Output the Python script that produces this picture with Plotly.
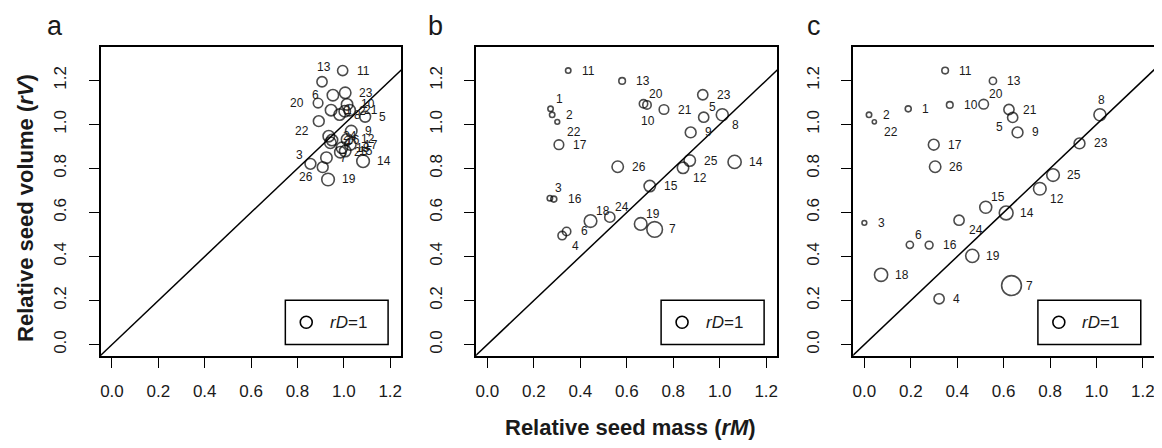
import plotly.graph_objects as go

# ---------------- data ----------------
ids = [str(i) for i in range(1, 27)]

# panel a
a_rM = [0.945, 1.004, 0.856, 0.942, 1.092, 0.953, 0.925, 0.982, 1.032, 1.014, 0.995, 1.014, 0.906,
        1.083, 1.006, 0.949, 1.028, 0.992, 0.932, 0.889, 1.025, 0.892, 1.006, 0.935, 0.985, 0.909]
a_rV = [1.065, 1.060, 0.821, 0.917, 1.035, 1.133, 0.849, 1.045, 0.970, 1.091, 1.245, 0.932, 1.194,
        0.833, 0.879, 0.929, 0.909, 0.894, 0.750, 1.097, 1.065, 1.015, 1.144, 0.947, 0.874, 0.806]
a_rD = [0.95, 0.95, 0.9, 0.95, 0.9, 0.95, 0.95, 0.95, 0.95, 0.95, 0.85, 0.95, 0.85,
        1.05, 0.95, 0.95, 0.95, 0.95, 1.05, 0.8, 0.95, 0.9, 0.95, 0.95, 0.95, 0.9]

# panel b
b_rM = [0.272, 0.279, 0.269, 0.322, 0.931, 0.341, 0.720, 1.011, 0.875, 0.687, 0.348, 0.842, 0.580,
        1.064, 0.699, 0.286, 0.308, 0.444, 0.660, 0.672, 0.760, 0.301, 0.927, 0.527, 0.871, 0.561]
b_rV = [1.071, 1.044, 0.665, 0.495, 1.033, 0.514, 0.523, 1.044, 0.964, 1.089, 1.245, 0.803, 1.198,
        0.830, 0.720, 0.661, 0.908, 0.561, 0.548, 1.094, 1.068, 1.012, 1.135, 0.579, 0.836, 0.808]
b_rD = [0.45, 0.45, 0.45, 0.7, 0.85, 0.7, 1.3, 1.0, 0.9, 0.7, 0.45, 0.95, 0.55,
        1.1, 0.95, 0.5, 0.8, 1.05, 1.05, 0.7, 0.8, 0.4, 0.85, 0.85, 0.95, 0.95]

# panel c
c_rM = [0.189, 0.020, 0.000, 0.322, 0.639, 0.196, 0.634, 1.015, 0.660, 0.368, 0.348, 0.756, 0.554,
        0.611, 0.523, 0.279, 0.299, 0.072, 0.465, 0.514, 0.623, 0.043, 0.927, 0.408, 0.813, 0.305]
c_rV = [1.071, 1.044, 0.553, 0.208, 1.032, 0.453, 0.268, 1.044, 0.964, 1.089, 1.245, 0.708, 1.198,
        0.598, 0.624, 0.452, 0.908, 0.317, 0.403, 1.092, 1.068, 1.012, 0.914, 0.565, 0.770, 0.808]
c_rD = [0.5, 0.45, 0.4, 0.85, 0.85, 0.6, 1.65, 1.0, 0.9, 0.55, 0.55, 1.05, 0.6,
        1.15, 1.0, 0.65, 0.9, 1.1, 1.1, 0.8, 0.85, 0.35, 0.9, 0.85, 1.05, 0.95]

x_ticks = [0.0, 0.2, 0.4, 0.6, 0.8, 1.0, 1.2]
y_ticks = [0.0, 0.2, 0.4, 0.6, 0.8, 1.0, 1.2]
tick_text = ["0.0", "0.2", "0.4", "0.6", "0.8", "1.0", "1.2"]
panel_letters = ["a", "b", "c"]
legend_label = "<i>rD</i>=1"

# ---------------- label placement (style) ----------------
a_pos = ['r', 'r', 'tl', 'r', 'r', 'l', 'r', 'r', 'r', 'r', 'r', 'r', 't',
         'r', 'r', 'r', 'r', 'r', 'r', 'l', 'r', 'bl', 'r', 'r', 'r', 'bl']
b_pos = ['tr', 'r', 'tr', 'br', 'tr', 'r', 'r', 'br', 'r', 'b', 'r', 'br', 'r',
         'r', 'r', 'r', 'r', 'tr', 'tr', 'tr', 'r', 'br', 'r', 'tr', 'r', 'r']
c_pos = ['r', 'r', 'r', 'r', 'bl', 'tr', 'r', 't', 'r', 'r', 'r', 'br', 'r',
         'r', 'tr', 'r', 'r', 'r', 'r', 'tr', 'r', 'br', 'r', 'br', 'r', 'r']
OFFS = {'r': ('left', 12, 0), 'l': ('right', -12, 0), 't': ('center', 2, 15),
        'b': ('center', 1, -16), 'tr': ('left', 3, 10), 'br': ('left', 8, -10),
        'tl': ('right', -5, 9), 'bl': ('right', -8, -10)}

FONT = "Liberation Sans, Arial, Helvetica, sans-serif"
TXT = "#1a1a1a"
SIZE_PER_RD = 12
XR = [-0.048, 1.248]
YR = [-0.052, 1.352]

# page is offset by the 8px body margin
W, H, OFF = 1150, 432, 8


def px(p):
    return (p - OFF) / W


def py(p):
    return 1 - (p - OFF) / H


x_domains = [[px(100), px(401)], [px(476), px(777.7)], [px(853.7), px(1155)]]
y_domain = [py(356), py(47)]

panels = [(a_rM, a_rV, a_rD, a_pos), (b_rM, b_rV, b_rD, b_pos), (c_rM, c_rV, c_rD, c_pos)]

fig = go.Figure()
annotations = []
shapes = []
layout = {}

for k, (xs, ys, ds, pos) in enumerate(panels):
    sfx = "" if k == 0 else str(k + 1)
    xa, ya = "x" + sfx, "y" + sfx
    # 1:1 line
    fig.add_trace(go.Scatter(x=[XR[0] - 0.1, XR[1] + 0.2], y=[XR[0] - 0.1, XR[1] + 0.2],
                             mode="lines", line=dict(color="black", width=1.5),
                             xaxis=xa, yaxis=ya, showlegend=False, hoverinfo="skip"))
    fig.add_trace(go.Scatter(x=xs, y=ys, mode="markers", text=ids,
                             marker=dict(symbol="circle", size=[d * SIZE_PER_RD for d in ds],
                                         color="rgba(0,0,0,0)",
                                         line=dict(color="black", width=1.6)),
                             xaxis=xa, yaxis=ya, showlegend=False, cliponaxis=False))
    for lab, x, y, p in zip(ids, xs, ys, pos):
        anc, dx, dy = OFFS[p]
        annotations.append(dict(x=x, y=y, xref=xa, yref=ya, text=lab, showarrow=False,
                                xanchor=anc, yanchor="middle", xshift=dx, yshift=dy,
                                font=dict(family=FONT, size=12, color=TXT)))
    layout["xaxis" + sfx] = dict(domain=x_domains[k], range=XR, anchor=ya,
                                 tickvals=x_ticks, ticktext=tick_text,
                                 ticks="outside", ticklen=10, tickwidth=1.3, tickcolor="black",
                                 showline=True, mirror=True, linecolor="black", linewidth=1.5,
                                 showgrid=False, zeroline=False, ticklabelstandoff=9,
                                 tickfont=dict(family=FONT, size=17, color=TXT))
    layout["yaxis" + sfx] = dict(domain=y_domain, range=YR, anchor=xa,
                                 tickvals=y_ticks, ticktext=tick_text, tickangle=-90,
                                 ticks="outside", ticklen=10, tickwidth=1.3, tickcolor="black",
                                 showline=True, mirror=True, linecolor="black", linewidth=1.5,
                                 showgrid=False, zeroline=False, ticklabelstandoff=16,
                                 tickfont=dict(family=FONT, size=17, color=TXT))
    # legend box
    shapes.append(dict(type="rect", xref=xa + " domain", yref=ya + " domain",
                       x0=0.614, x1=0.956, y0=0.037, y1=0.1806,
                       line=dict(color="black", width=1.5), fillcolor="white"))
    cw = SIZE_PER_RD / (W * (x_domains[k][1] - x_domains[k][0]))
    chh = SIZE_PER_RD / (H * (y_domain[1] - y_domain[0]))
    shapes.append(dict(type="circle", xref=xa + " domain", yref=ya + " domain",
                       x0=0.6836 - cw / 2, x1=0.6836 + cw / 2,
                       y0=0.1093 - chh / 2, y1=0.1093 + chh / 2,
                       line=dict(color="black", width=1.6)))
    annotations.append(dict(x=0.7554, y=0.1093, xref=xa + " domain", yref=ya + " domain",
                            text=legend_label, showarrow=False, xanchor="left", yanchor="middle",
                            font=dict(family=FONT, size=17, color=TXT)))
    # panel letter
    annotations.append(dict(x=px([44, 426, 805][k]), y=py(26), xref="paper", yref="paper",
                            text=panel_letters[k], showarrow=False, xanchor="left", yanchor="middle",
                            font=dict(family=FONT, size=27, color=TXT)))

# axis titles
annotations.append(dict(x=px(631), y=py(427), xref="paper", yref="paper",
                        text="<b>Relative seed mass (<i>rM</i>)</b>", showarrow=False,
                        xanchor="center", yanchor="middle",
                        font=dict(family=FONT, size=22, color=TXT)))
annotations.append(dict(x=px(24), y=py(208), xref="paper", yref="paper",
                        text="<b>Relative seed volume (<i>rV</i>)</b>", showarrow=False,
                        textangle=-90, xanchor="center", yanchor="middle",
                        font=dict(family=FONT, size=22, color=TXT)))

fig.update_layout(width=W, height=H, margin=dict(l=0, r=0, t=0, b=0),
                  paper_bgcolor="white", plot_bgcolor="white",
                  annotations=annotations, shapes=shapes, **layout)
fig.write_html("out.html")
